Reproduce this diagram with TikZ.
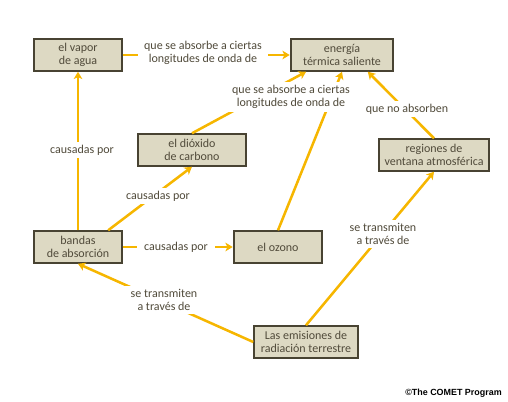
\documentclass[tikz,border=0pt]{standalone}
\usepackage{fontspec}
\setmainfont{Carlito}
\newfontfamily\cometfont{Liberation Sans}
\usetikzlibrary{arrows.meta}
\definecolor{cmapfill}{RGB}{221,217,195}
\definecolor{cmapline}{RGB}{72,67,50}
\definecolor{cmaptext}{RGB}{80,74,58}
\definecolor{cmaparrow}{RGB}{246,182,0}

\begin{document}
\begin{tikzpicture}[x=0.75pt,y=-0.75pt,
	concept/.style={draw=cmapline,line width=1.5pt,fill=cmapfill,text=cmaptext,align=center,
		minimum height=23.6pt,inner sep=1pt,font=\fontsize{9}{9.3}\selectfont},
	link/.style={fill=white,text=cmaptext,align=center,inner xsep=5pt,inner ysep=2.5pt,
		font=\fontsize{9}{9.3}\selectfont},
	conn/.style={draw=cmaparrow,line width=1.9pt},
	arr/.style={conn,-{Stealth[length=5.5pt,width=6.5pt,inset=1.5pt]}}]
	\useasboundingbox (0,0) rectangle (508,401);
	\node[concept,minimum width=65.6pt] (vapor) at (78,55) {el vapor\\de agua};
	\node[concept,minimum width=76.9pt] (energia) at (342,55) {energía\\térmica saliente};
	\node[concept,minimum width=80.6pt] (dioxido) at (192,150) {el dióxido\\de carbono};
	\node[concept,minimum width=82.1pt] (regiones) at (434,155) {regiones de\\ventana atmosférica};
	\node[concept,minimum width=65.6pt] (bandas) at (78,247) {bandas\\de absorción};
	\node[concept,minimum width=66.4pt] (ozono) at (278,247) {el ozono};
	\node[concept,minimum width=77.6pt] (emisiones) at (306,342) {Las emisiones de\\radiación terrestre};
	\draw[arr] (vapor.east) -- (energia.west);
	\draw[arr] (dioxido.north) -- (energia.-155);
	\draw[arr] (ozono.north) -- (energia.south);
	\draw[arr] (regiones.north) -- (energia.-33);
	\draw[arr] (bandas.north) -- (vapor.south);
	\draw[arr] (bandas.29) -- (dioxido.south);
	\draw[arr] (bandas.east) -- (ozono.west);
	\draw[arr] (emisiones.west) -- (bandas.south);
	\draw[arr] (emisiones.north) -- (regiones.south);
	\node[link] (absvapor) at (203,53) {que se absorbe a ciertas\\longitudes de onda de};
	\node[link] (absgases) at (291,97) {que se absorbe a ciertas\\longitudes de onda de};
	\node[link] (noabs) at (407,109) {que no absorben};
	\node[link] (causvapor) at (82,150) {causadas por};
	\node[link] (causdiox) at (158,196) {causadas por};
	\node[link] (causozono) at (176,247) {causadas por};
	\node[link] (transbandas) at (164,300) {se transmiten\\a través de};
	\node[link] (transreg) at (383,234) {se transmiten\\a través de};
	\node[anchor=east,inner sep=0pt,font=\cometfont\bfseries\fontsize{6.7}{8}\selectfont] (comet) at (502,393) {©The COMET Program};
\end{tikzpicture}
\end{document}
